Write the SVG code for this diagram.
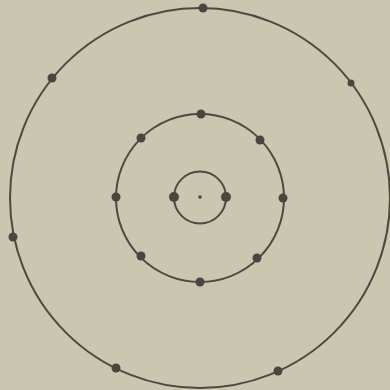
<svg xmlns="http://www.w3.org/2000/svg" width="390" height="390" viewBox="0 0 390 390">
<style>
.orbit{fill:none;stroke:#4d4942;stroke-width:2}
.e{fill:#4a463f}
</style>
<rect width="390" height="390" fill="#cbc6b0"/>
<g id="orbits">
<circle class="orbit" cx="200" cy="198" r="190"/>
<circle class="orbit" cx="200" cy="198" r="84"/>
<circle class="orbit" cx="200" cy="197.5" r="26"/>
</g>
<g id="nucleus"><circle class="e" cx="200" cy="197" r="1.8"/></g>
<g id="shell1">
<circle class="e" cx="174" cy="197" r="5"/>
<circle class="e" cx="226" cy="197" r="5"/>
</g>
<g id="shell2">
<circle class="e" cx="201" cy="114" r="4.5"/>
<circle class="e" cx="141" cy="138" r="4.5"/>
<circle class="e" cx="260" cy="140" r="4.5"/>
<circle class="e" cx="116" cy="197" r="4.5"/>
<circle class="e" cx="283" cy="198" r="4.5"/>
<circle class="e" cx="141" cy="256" r="4.5"/>
<circle class="e" cx="257" cy="258" r="4.5"/>
<circle class="e" cx="200" cy="282" r="4.5"/>
</g>
<g id="shell3">
<circle class="e" cx="203" cy="8" r="4.5"/>
<circle class="e" cx="52" cy="78" r="4.5"/>
<circle class="e" cx="351" cy="83" r="3.5"/>
<circle class="e" cx="13" cy="237" r="4.5"/>
<circle class="e" cx="116" cy="368" r="4.5"/>
<circle class="e" cx="278" cy="371" r="4.5"/>
</g>
</svg>
